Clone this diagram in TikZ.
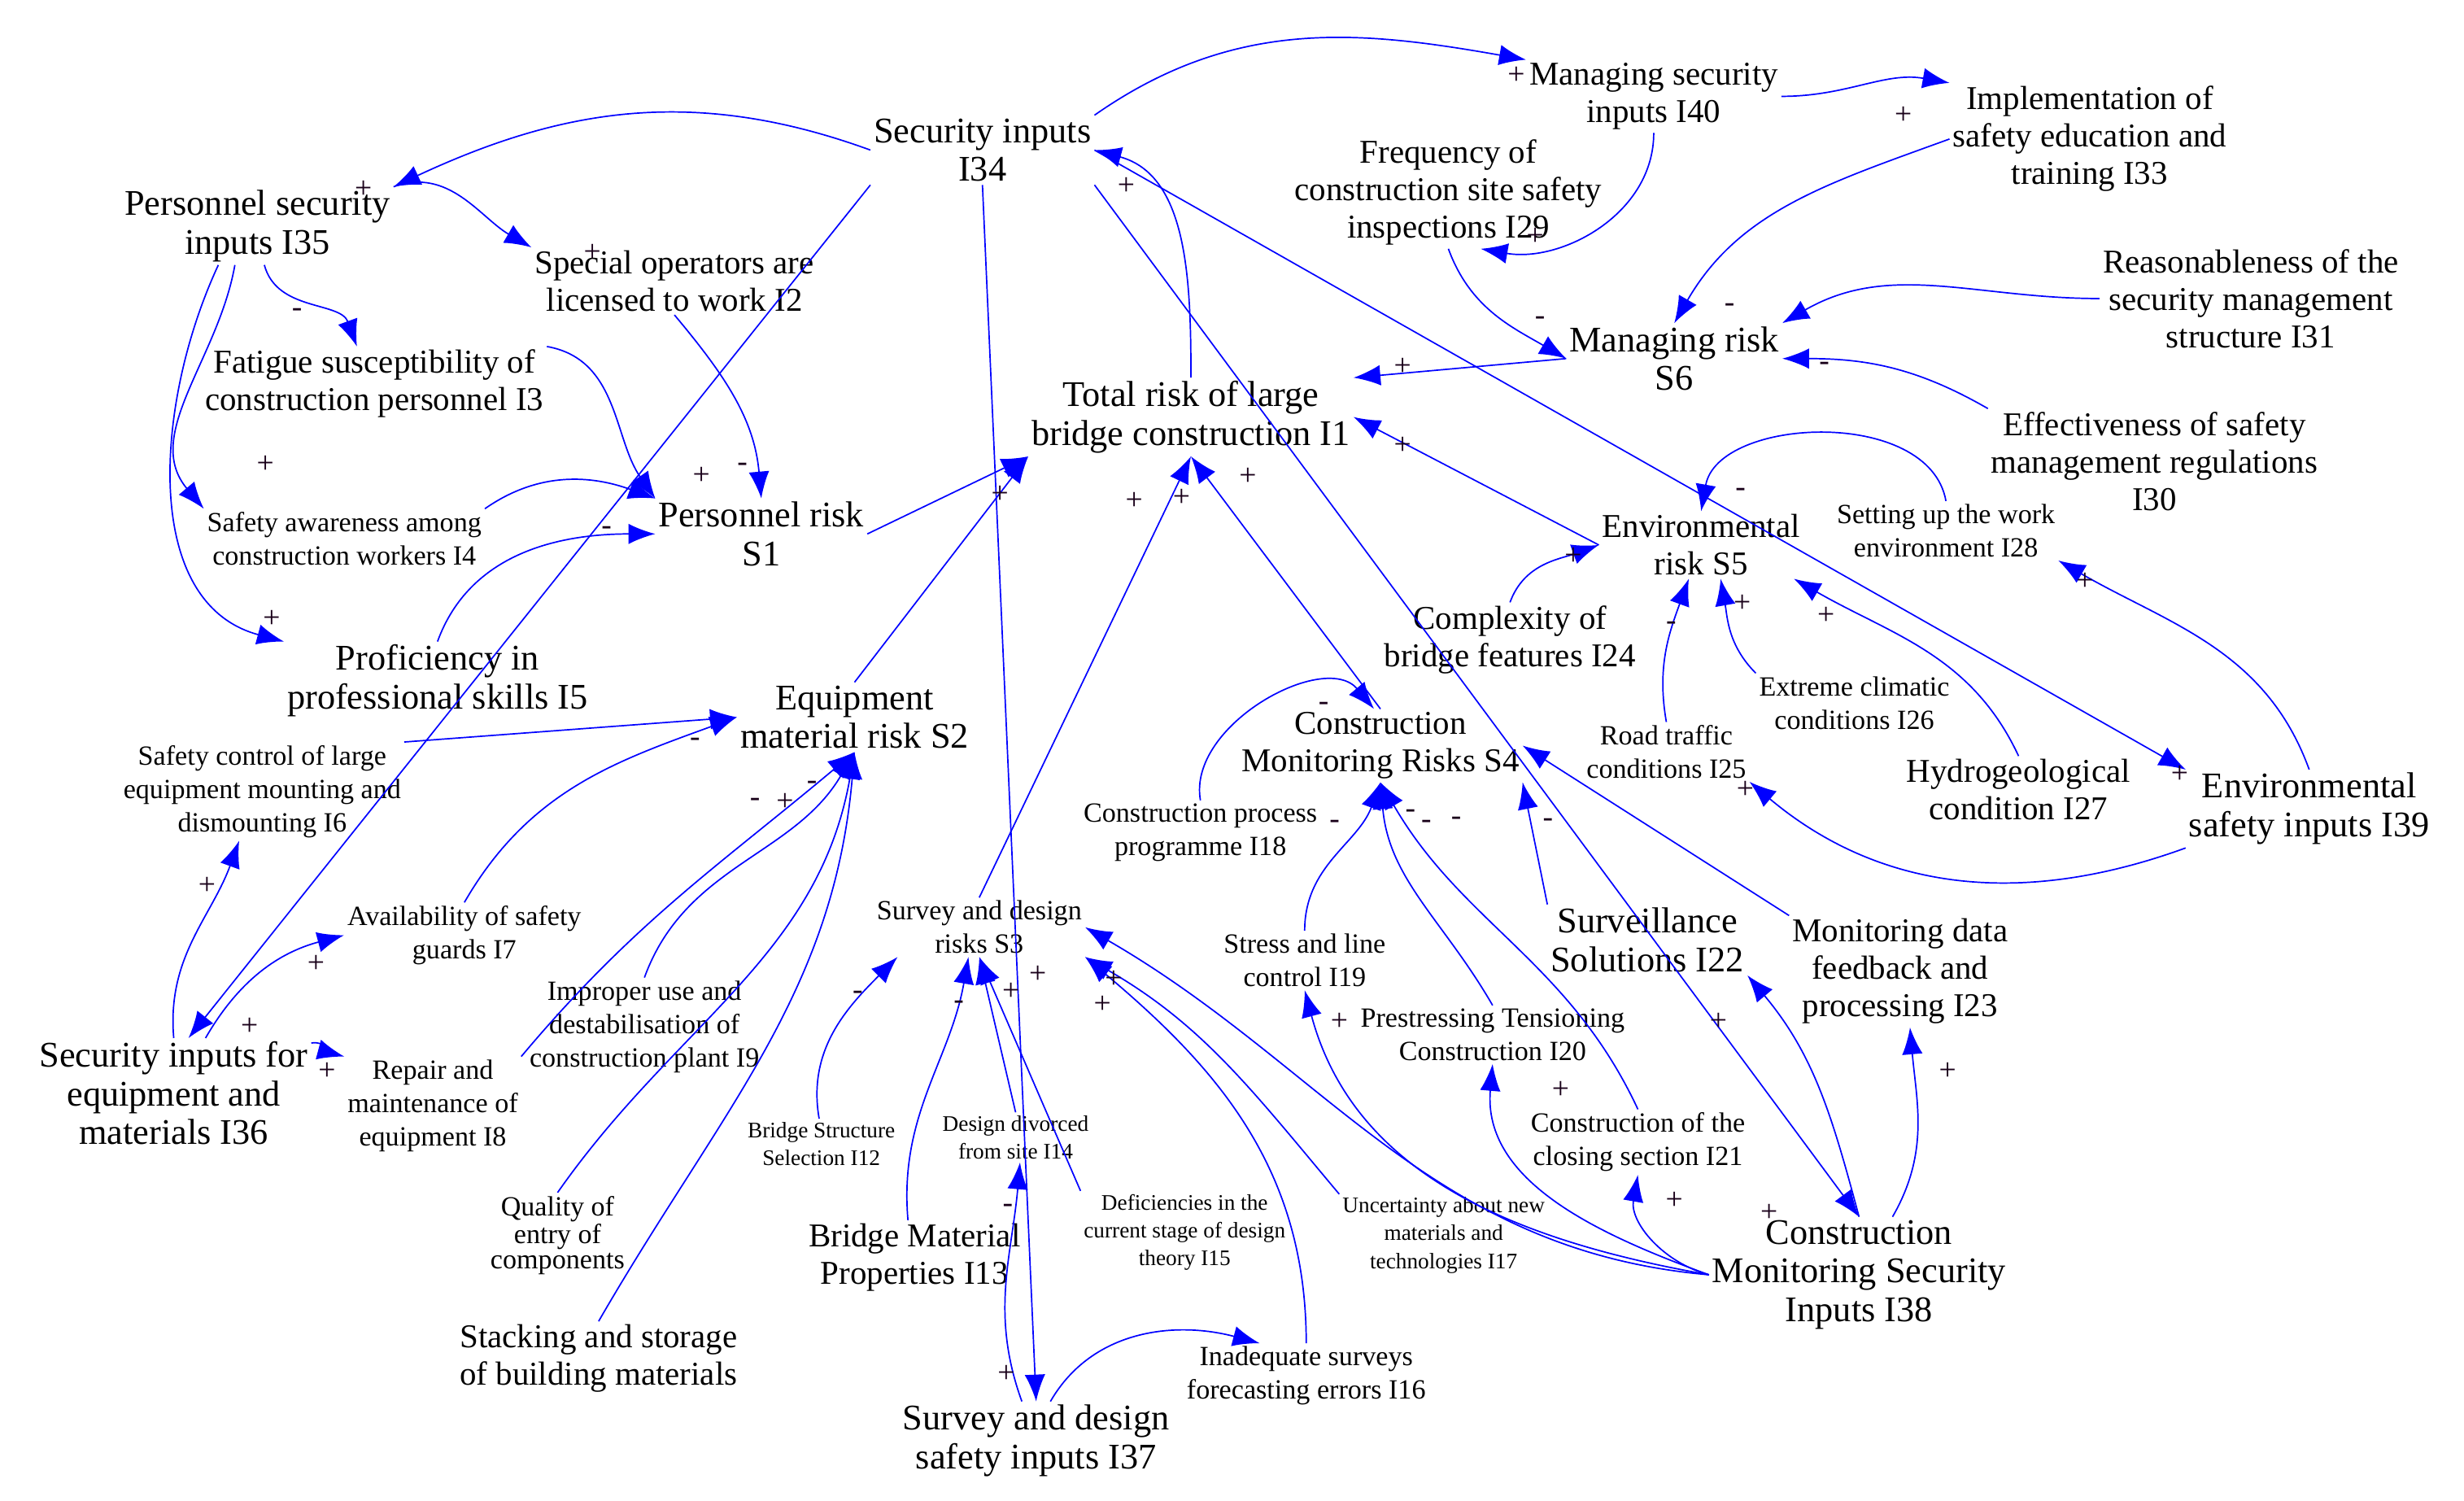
\documentclass[tikz,border=0pt]{standalone}
\usepackage{fontspec}
\setmainfont{Liberation Serif}
\usetikzlibrary{arrows.meta}
\newcommand\myar{\draw[a]}
\begin{document}
\begin{tikzpicture}[x=0.02cm,y=-0.02cm,
  n/.style={align=center,inner sep=1pt},
  big/.style={n,font=\fontsize{13}{14}\selectfont},
  med/.style={n,font=\fontsize{12}{13.5}\selectfont},
  sm/.style={n,font=\fontsize{10}{12}\selectfont},
  tiny/.style={n,font=\fontsize{8}{10}\selectfont},
  sg/.style={inner sep=0pt,font=\fontsize{11}{11}\selectfont,text=black!80!violet},
  a/.style={draw={rgb,255:red,0;green,0;blue,255},line width=0.5pt,-{Latex[length=3.4mm,width=2.6mm]}},
]
\useasboundingbox (0,0) rectangle (1560,950);
% nodes
\node[big] (I34) at (622,95) {Security inputs\\I34};
\node[big] (I35) at (163,143) {Personnel security\\inputs I35};
\node[med] (I2) at (427,178) {Special operators are\\licensed to work I2};
\node[med] (I3) at (237,243) {Fatigue susceptibility of\\construction personnel I3};
\node[sm] (I4) at (218,341) {Safety awareness among\\construction workers I4};
\node[big] (S1) at (482,338) {Personnel risk\\S1};
\node[big] (I5) at (277,431) {Proficiency in\\professional skills I5};
\node[big] (S2) at (541,454) {Equipment\\material risk S2};
\node[sm] (I6) at (166,501) {Safety control of large\\equipment mounting and\\dismounting I6};
\node[sm] (I7) at (294,592) {Availability of safety\\guards I7};
\node[big] (I36) at (110,692) {Security inputs for\\equipment and\\materials I36};
\node[sm] (I8) at (274,700) {Repair and\\maintenance of\\equipment I8};
\node[sm] (I9) at (408,650) {Improper use and\\destabilisation of\\construction plant I9};
\node[sm,font=\fontsize{10}{9}\selectfont] (I10) at (353,782) {Quality of\\entry of\\components};
\node[med] (I11) at (379,860) {Stacking and storage\\of building materials};
\node[big] (I1) at (754,264) {Total risk of large\\bridge construction I1};
\node[med] (I40) at (1047,61) {Managing security\\inputs I40};
\node[med] (I33) at (1323,88) {Implementation of\\safety education and\\training I33};
\node[med] (I29) at (917,122) {Frequency of\\construction site safety\\inspections I29};
\node[big] (S6) at (1060,227) {Managing risk\\S6};
\node[med] (I31) at (1425,189) {Reasonableness of the\\security management\\structure I31};
\node[med] (I30) at (1364,292) {Effectiveness of safety\\management regulations\\I30};
\node[med] (S5) at (1077,345) {Environmental\\risk S5};
\node[sm] (I28) at (1232,336) {Setting up the work\\environment I28};
\node[med] (I24) at (956,405) {Complexity of\\bridge features I24};
\node[sm] (I26) at (1174,445) {Extreme climatic\\conditions I26};
\node[sm] (I25) at (1055,476) {Road traffic\\conditions I25};
\node[med] (I27) at (1278,500) {Hydrogeological\\condition I27};
\node[big] (I39) at (1462,512) {Environmental\\safety inputs I39};
\node[med] (S4) at (874,472) {Construction\\Monitoring Risks S4};
\node[sm] (I18) at (760,527) {Construction process\\programme I18};
\node[sm] (S3) at (620,587) {Survey and design\\risks S3};
\node[sm] (I19) at (826,608) {Stress and line\\control I19};
\node[big] (I22) at (1043,595) {Surveillance\\Solutions I22};
\node[med] (I23) at (1203,615) {Monitoring data\\feedback and\\processing I23};
\node[sm] (I20) at (945,655) {Prestressing Tensioning\\Construction I20};
\node[sm] (I21) at (1037,723) {Construction of the\\closing section I21};
\node[tiny] (I12) at (520,724) {Bridge Structure\\Selection I12};
\node[tiny] (I14) at (643,720) {Design divorced\\from site I14};
\node[med] (I13) at (579,796) {Bridge Material\\Properties I13};
\node[tiny] (I15) at (750,780) {Deficiencies in the\\current stage of design\\theory I15};
\node[tiny] (I17) at (914,782) {Uncertainty about new\\materials and\\technologies I17};
\node[big] (I38) at (1177,807) {Construction\\Monitoring Security\\Inputs I38};
\node[sm] (I16) at (827,871) {Inadequate surveys\\forecasting errors I16};
\node[big] (I37) at (656,912) {Survey and design\\safety inputs I37};
% edges
\myar (I34.west) to[out=160,in=25] (I35.north east);
\myar (I34.north east) to[out=35,in=170] (I40.north west);
\myar (I40.east) to[out=0,in=170] (I33.north west);
\myar (I40.south) to[out=-90,in=-10] (I29.-60);
\myar (I35.north east) to[out=20,in=150] (I2.north west);
\myar (I35.-80) to[out=-75,in=110] (I3.115);
\myar (I35.-120) to[out=-100,in=130] (I4.north west);
\myar (I35.-135) to[out=-115,in=165] (I5.north west);
\myar (I3.north east) to[out=-10,in=125] (S1.north west);
\myar (I2.south) to[out=-50,in=95] (S1.north);
\myar (I4.north east) to[out=35,in=160] (S1.north west);
\myar (I5.north) to[out=70,in=180] (S1.west);
\myar (S1.east) -- (I1.south west);
\myar (I34.south west) -- (I36.75);
\myar (I34.south) -- (I37.north);
\myar (I34.south east) -- (I38.north);
\myar (I34.east) -- (I39.north west);
\myar (I1.north) to[out=90,in=-15] (I34.east);
\myar (S6.west) -- (I1.north east);
\myar (I29.south) to[out=-70,in=150] (S6.west);
\myar (I33.west) to[out=200,in=60] (S6.north);
\myar (I31.west) to[out=180,in=30] (S6.north east);
\myar (I30.north west) to[out=150,in=0] (S6.east);
\myar (S5.west) -- (I1.east);
\myar (I24.north) to[out=70,in=200] (S5.west);
\myar (I28.north) to[out=100,in=80] (S5.north);
\myar (I25.north) to[out=100,in=-110] (S5.-110);
\myar (I26.north west) to[out=135,in=-80] (S5.-60);
\myar (I27.north) to[out=115,in=-30] (S5.-20);
\myar (I39.north) to[out=110,in=-30] (I28.south east);
\myar (I39.south west) to[out=-160,in=-40] (I25.south east);
\myar (S2.north) -- (I1.south west);
\myar (S3.north) -- (I1.south);
\myar (S4.north) -- (I1.south);
\myar (I18.north) to[out=100,in=130] (S4.100);
\myar (I19.north) to[out=90,in=-110] (S4.south);
\myar (I20.north) to[out=120,in=-85] (S4.south);
\myar (I21.north) to[out=115,in=-60] (S4.south);
\myar (I22.north west) -- (S4.south east);
\myar (I23.north west) -- (S4.east);
\myar (I38.north) to[out=105,in=-50] (I22.south east);
\myar (I38.west) to[out=165,in=-100] (I21.south);
\myar (I38.west) to[out=160,in=-95] (I20.south);
\myar (I38.west) to[out=170,in=-75] (I19.south);
\myar (I38.west) to[out=175,in=-30] (S3.east);
\myar (I38.60) to[out=60,in=-85] (I23.-80);
\myar (I37.110) to[out=110,in=-95] (I14.-80);
\myar (I37.70) to[out=60,in=165] (I16.145);
\myar (I16.north) to[out=90,in=-40] (S3.south east);
\myar (I17.north west) to[out=130,in=-30] (S3.south east);
\myar (I15.north west) -- (S3.south);
\myar (I14.north) -- (S3.south);
\myar (I13.100) to[out=95,in=-100] (S3.-110);
\myar (I12.95) to[out=100,in=-135] (S3.-160);
\myar (I6.north east) -- (S2.west);
\myar (I7.north) to[out=60,in=200] (S2.west);
\myar (I8.north east) to[out=50,in=220] (S2.south);
\myar (I9.north) to[out=70,in=240] (S2.south);
\myar (I10.north) to[out=55,in=-100] (S2.south);
\myar (I11.north) to[out=60,in=-95] (S2.south);
\myar (I36.north) to[out=95,in=-110] (I6.245);
\myar (I36.60) to[out=60,in=195] (I7.west);
\myar (I36.20) to[out=10,in=165] (I8.north west);
% signs
\foreach \p/\s in {(230,120)/+,(375,160)/+,(960,48)/+,(1205,73)/+,(972,150)/+,(188,198)/-,
 (168,294)/+,(172,392)/+,(444,301)/+,(470,296)/-,(384,336)/-,(633,313)/+,(158,650)/+,(200,610)/+,
 (207,678)/+,(131,561)/+,(1120,768)/+,(1380,490)/+,(713,118)/+,(888,232)/+,(975,203)/-,(1095,195)/-,
 (1155,232)/-,(888,282)/+,(996,352)/+,(1102,312)/-,(1058,396)/-,(1103,382)/+,(1156,390)/+,(1320,368)/+,
 (1105,500)/+,(718,317)/+,(748,315)/+,(790,302)/+,(838,447)/-,(845,522)/-,(893,515)/-,(903,522)/-,
 (922,520)/-,(980,521)/-,(1088,647)/+,(1060,760)/+,(988,690)/+,(848,647)/+,(1233,678)/+,(638,765)/-,
 (637,870)/+,(698,636)/+,(705,620)/+,(657,617)/+,(640,628)/+,(607,636)/-,(543,630)/-,(440,470)/-,
 (478,508)/-,(497,508)/+,(514,497)/-}
 \node[sg] at \p {\s};
\end{tikzpicture}
\end{document}
